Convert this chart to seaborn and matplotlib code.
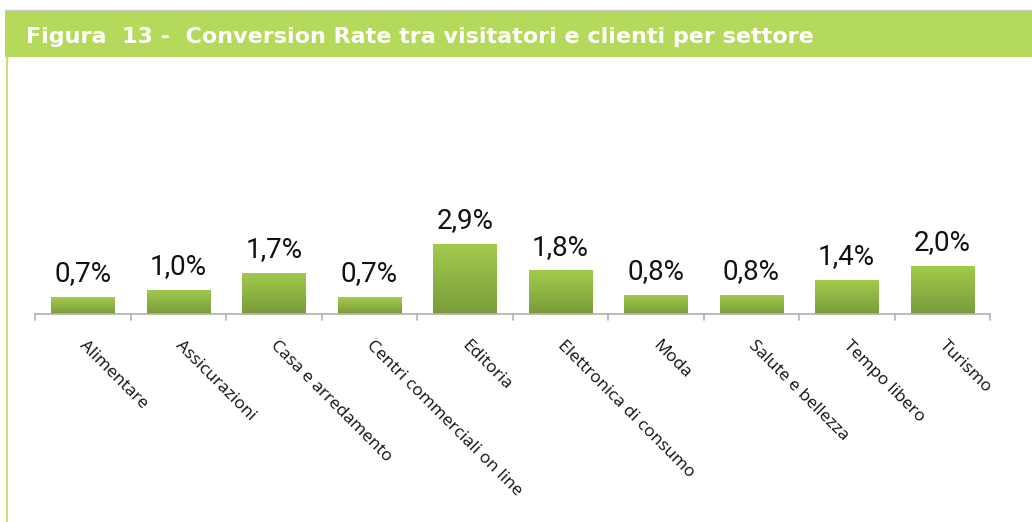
import numpy as np
import matplotlib.pyplot as plt
import matplotlib.transforms as mtrans
import seaborn as sns
import pandas as pd
from matplotlib.patches import Rectangle
from matplotlib.lines import Line2D

# data
settori = ["Alimentare", "Assicurazioni", "Casa e arredamento",
           "Centri commerciali on line", "Editoria", "Elettronica di consumo",
           "Moda", "Salute e bellezza", "Tempo libero", "Turismo"]
conversion = [0.7, 1.0, 1.7, 0.7, 2.9, 1.8, 0.8, 0.8, 1.4, 2.0]
titolo = "Figura  13 -  Conversion Rate tra visitatori e clienti per settore"

df = pd.DataFrame({"settore": settori, "rate": conversion})

sns.set_theme(style="white")
plt.rcParams["font.family"] = ["Open Sans", "DejaVu Sans"]

fig = plt.figure(figsize=(10.32, 5.22), dpi=100)

# header band
fig.patches.append(Rectangle((5 / 1032, 1 - 57 / 522), 1.0, 47 / 522,
                             transform=fig.transFigure, facecolor="#b5d95b",
                             edgecolor="none", zorder=0))
fig.lines.append(Line2D([5 / 1032, 1], [1 - 10 / 522, 1 - 10 / 522],
                        transform=fig.transFigure, color="#c8c8c8", lw=1))
fig.lines.append(Line2D([7 / 1032, 7 / 1032], [0, 1 - 57 / 522],
                        transform=fig.transFigure, color="#c5e07f", lw=1.5))
fig.text(26 / 1032, 1 - 37 / 522, titolo, color="white", fontsize=16,
         fontweight="bold", family=["DejaVu Sans"], va="center", ha="left")

ax = fig.add_axes([35 / 1032, 1 - 314 / 522, 955 / 1032, 254 / 522])
sns.barplot(data=df, x="settore", y="rate", color="#8cb544", width=0.66,
            saturation=1, ax=ax)

# vertical gradient on each bar
grad = np.linspace(0, 1, 100).reshape(-1, 1)
cmap = sns.blend_palette(["#7a9c3a", "#a2cb4c"], as_cmap=True)
for bar in ax.patches:
    x0, y0 = bar.get_x(), bar.get_y()
    w, h = bar.get_width(), bar.get_height()
    im = ax.imshow(grad, extent=[x0, x0 + w, y0, y0 + h], origin="lower",
                   cmap=cmap, aspect="auto", zorder=2)
    im.set_clip_path(bar)

for i, v in enumerate(conversion):
    ax.text(i, v + 0.4, f"{v:.1f}".replace(".", ",") + "%", ha="center",
            va="bottom", fontsize=20, family=["Roboto", "DejaVu Sans"],
            color="#111111")

ax.set_xlim(-0.5, len(settori) - 0.5)
ax.set_ylim(0, 10.5)
ax.set_xlabel("")
ax.set_ylabel("")
ax.set_yticks([])
for s in ["top", "right", "left"]:
    ax.spines[s].set_visible(False)
ax.spines["bottom"].set_color("#b0b0b0")
ax.spines["bottom"].set_linewidth(1.2)

ax.set_xticks(np.arange(len(settori)))
ax.set_xticklabels(settori, rotation=-45, ha="left", va="top",
                   rotation_mode="anchor", fontsize=12.5, color="#111111")
ax.tick_params(axis="x", length=0, pad=17)
shift = mtrans.ScaledTranslation(5 / 100, 0, fig.dpi_scale_trans)
for lab in ax.get_xticklabels():
    lab.set_transform(lab.get_transform() + shift)
for b in np.arange(-0.5, len(settori), 1.0):
    ax.plot([b, b], [0, -0.25], color="#b0b0b0", lw=1.2, clip_on=False)

fig.savefig("out.png", dpi=100)
